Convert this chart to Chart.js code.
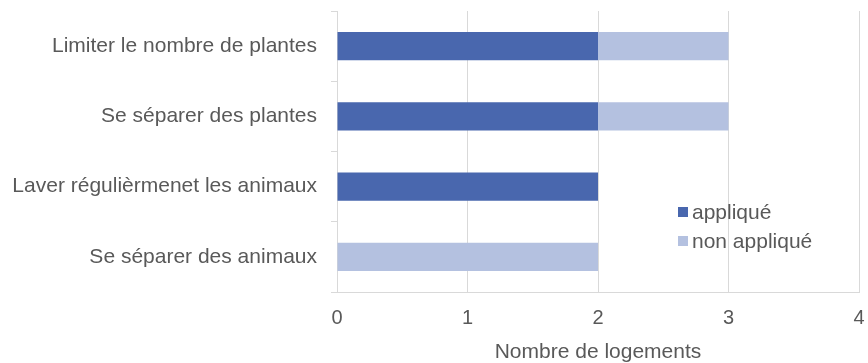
<!DOCTYPE html>
<html>
<head>
<meta charset="utf-8">
<script src="https://cdn.jsdelivr.net/npm/chart.js@4/dist/chart.umd.min.js"></script>
<style>
  html, body { margin: 0; padding: 0; background: #fff; }
  #wrap { width: 868px; height: 363px; }
</style>
</head>
<body>
<div id="wrap"><canvas id="chart" width="868" height="363"></canvas></div>
<script>
const categories = [
  "Limiter le nombre de plantes",
  "Se séparer des plantes",
  "Laver régulièrmenet les animaux",
  "Se séparer des animaux"
];
const applique = [2, 2, 2, 0];
const nonApplique = [1, 1, 0, 2];
const xTicks = [0, 1, 2, 3, 4];

const textColor = "#595959";
const gridColor = "#d9d9d9";
const family = "'Liberation Sans', Arial, sans-serif";
const labelFont = { family, size: 21 };
const tickFont = { family, size: 20 };

// legend drawn inside the plot, lower right
const innerLegend = {
  id: "innerLegend",
  afterDraw(chart) {
    const ctx = chart.ctx;
    const x = 678, y0 = 212, step = 29;
    ctx.save();
    ctx.font = `${labelFont.size}px ${family}`;
    ctx.textBaseline = "middle";
    chart.data.datasets.forEach((ds, i) => {
      const y = y0 + i * step;
      ctx.fillStyle = ds.backgroundColor;
      ctx.fillRect(x, y - 5, 10, 10);
      ctx.fillStyle = textColor;
      ctx.fillText(ds.label, x + 14, y + 1);
    });
    ctx.restore();
  }
};

new Chart(document.getElementById("chart"), {
  type: "bar",
  data: {
    labels: categories,
    datasets: [
      { label: "appliqué", data: applique, backgroundColor: "#4967ae", barPercentage: 0.4, categoryPercentage: 1 },
      { label: "non appliqué", data: nonApplique, backgroundColor: "#b4c1e0", barPercentage: 0.4, categoryPercentage: 1 }
    ]
  },
  options: {
    indexAxis: "y",
    responsive: false,
    animation: false,
    layout: { padding: { top: 11, right: 9, left: 0, bottom: 0 } },
    plugins: { legend: { display: false }, tooltip: { enabled: false } },
    scales: {
      x: {
        stacked: true,
        min: 0,
        max: 4,
        afterBuildTicks: (s) => { s.ticks = xTicks.map(v => ({ value: v })); },
        afterFit: (s) => { s.height = 71; s.paddingLeft = 0; s.paddingRight = 0; },
        grid: { color: gridColor, lineWidth: 1, tickLength: 0 },
        border: { color: gridColor },
        ticks: { color: textColor, font: tickFont, padding: 14 },
        title: { display: true, text: "Nombre de logements", color: textColor, font: labelFont, padding: { top: 6, bottom: -2 } }
      },
      y: {
        stacked: true,
        afterFit: (s) => { s.width = 337; s.paddingTop = 0; s.paddingBottom = 0; },
        grid: { offset: true, drawOnChartArea: false, color: gridColor, tickLength: 6 },
        border: { color: gridColor },
        ticks: { color: textColor, font: labelFont, padding: 14 }
      }
    }
  },
  plugins: [innerLegend]
});
</script>
</body>
</html>
